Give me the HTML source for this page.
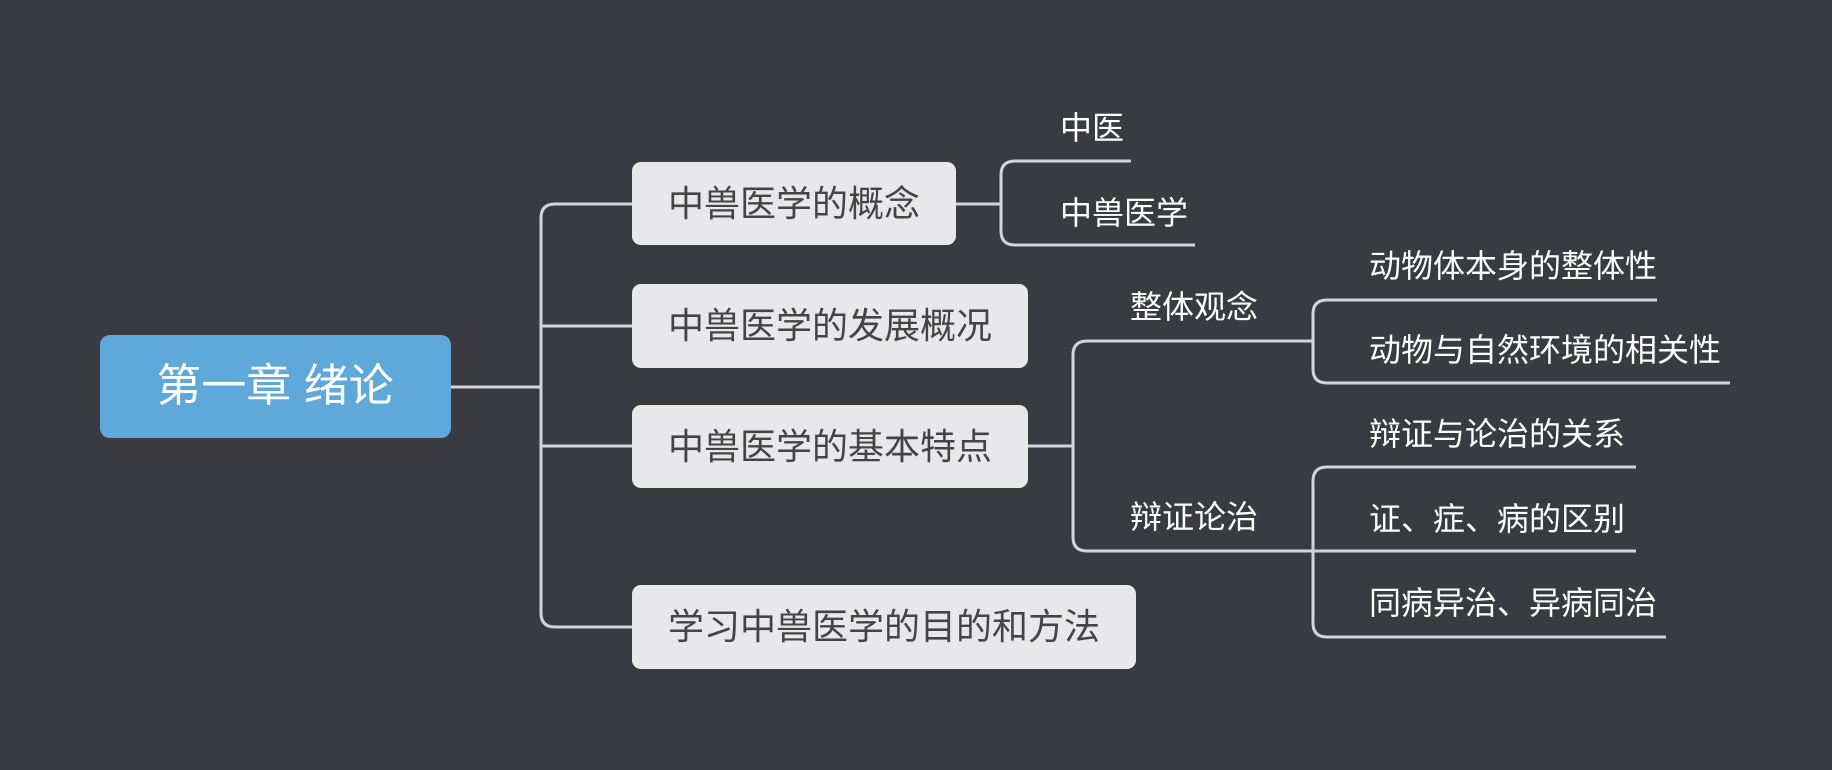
<!DOCTYPE html>
<html><head><meta charset="utf-8"><style>
html,body{margin:0;padding:0;background:#3a3b40;}
svg{display:block;}
text{font-family:"Liberation Sans","Noto Sans CJK SC",sans-serif;}
</style></head><body>
<svg width="1832" height="770" viewBox="0 0 1832 770" xmlns="http://www.w3.org/2000/svg">
<rect width="1832" height="770" fill="#3a3b40"/>
<g fill="none" stroke="#d4d4d8" stroke-width="3">
<path d="M451 387 H541"/>
<path d="M632 204 H555 Q541 204 541 218 V613 Q541 627 555 627 H632"/>
<path d="M541 326 H632 M541 446 H632"/>
<path d="M956 204 H1001"/>
<path d="M1131 161 H1015 Q1001 161 1001 175 V231 Q1001 245 1015 245 H1195"/>
<path d="M1028 446 H1073"/>
<path d="M1313 341 H1087 Q1073 341 1073 355 V537 Q1073 551 1087 551 H1313"/>
<path d="M1657 300 H1327 Q1313 300 1313 314 V369 Q1313 383 1327 383 H1730"/>
<path d="M1636 467 H1327 Q1313 467 1313 481 V623 Q1313 637 1327 637 H1666"/>
<path d="M1313 551 H1636"/>
</g>
<rect x="100" y="335" width="351" height="103" rx="10" fill="#5ea8da"/>
<text x="275" y="401" font-size="45" fill="#fff" text-anchor="middle">第一章 绪论</text>
<g fill="#e8e8ea">
<rect x="632" y="162" width="324" height="83" rx="9"/>
<rect x="632" y="284" width="396" height="84" rx="9"/>
<rect x="632" y="405" width="396" height="83" rx="9"/>
<rect x="632" y="585" width="504" height="84" rx="9"/>
</g>
<g font-size="36" fill="#444">
<text x="668" y="216">中兽医学的概念</text>
<text x="668" y="338">中兽医学的发展概况</text>
<text x="668" y="459">中兽医学的基本特点</text>
<text x="668" y="639">学习中兽医学的目的和方法</text>
</g>
<g font-size="32" fill="#fff">
<text x="1060" y="139">中医</text>
<text x="1060" y="224">中兽医学</text>
<text x="1130" y="318">整体观念</text>
<text x="1130" y="528">辩证论治</text>
<text x="1369" y="277">动物体本身的整体性</text>
<text x="1369" y="361">动物与自然环境的相关性</text>
<text x="1369" y="445">辩证与论治的关系</text>
<text x="1369" y="530">证、症、病的区别</text>
<text x="1369" y="614">同病异治、异病同治</text>
</g>
</svg>
</body></html>
